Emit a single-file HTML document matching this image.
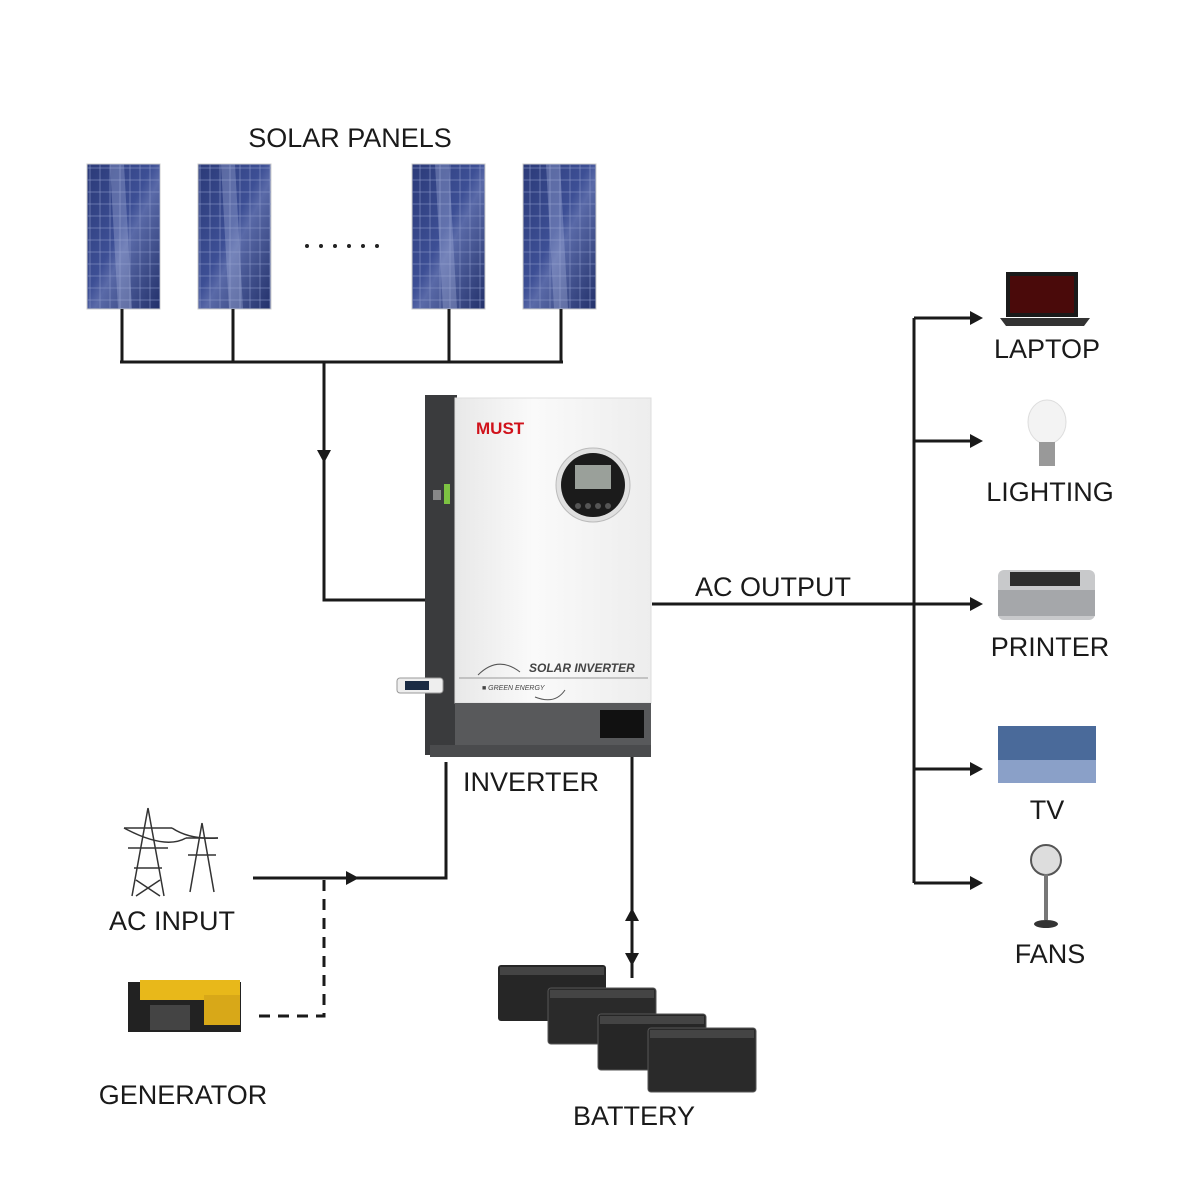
<!DOCTYPE html>
<html><head><meta charset="utf-8"><style>
html,body{margin:0;padding:0;background:#fff;}
svg{display:block;}
text{font-family:"Liberation Sans",Arial,sans-serif;fill:#1a1a1a;}
</style></head><body>
<svg width="1200" height="1200" viewBox="0 0 1200 1200" xmlns="http://www.w3.org/2000/svg">
<defs>
<linearGradient id="pn" x1="0" y1="0" x2="1" y2="1">
<stop offset="0" stop-color="#2b3a78"/><stop offset="0.45" stop-color="#3d4f95"/><stop offset="0.55" stop-color="#5a6aa8"/><stop offset="1" stop-color="#22306a"/></linearGradient>
<pattern id="grid" width="10" height="12" patternUnits="userSpaceOnUse"><rect width="10" height="12" fill="none" stroke="#8a98c8" stroke-width="0.6"/></pattern>
<linearGradient id="wh" x1="0" y1="0" x2="1" y2="0"><stop offset="0" stop-color="#e8e8e8"/><stop offset="0.4" stop-color="#fafafa"/><stop offset="1" stop-color="#ededed"/></linearGradient>
</defs>

<text x="350" y="147" font-size="27" text-anchor="middle">SOLAR PANELS</text>
<g>
<rect x="87" y="164" width="73" height="145" fill="url(#pn)" stroke="#ccc"/><rect x="87" y="164" width="73" height="145" fill="url(#grid)"/>
<rect x="198" y="164" width="73" height="145" fill="url(#pn)" stroke="#ccc"/><rect x="198" y="164" width="73" height="145" fill="url(#grid)"/>
<rect x="412" y="164" width="73" height="145" fill="url(#pn)" stroke="#ccc"/><rect x="412" y="164" width="73" height="145" fill="url(#grid)"/>
<rect x="523" y="164" width="73" height="145" fill="url(#pn)" stroke="#ccc"/><rect x="523" y="164" width="73" height="145" fill="url(#grid)"/>
<g fill="#a8b4dc" opacity="0.35"><path d="M110 164H124L132 309H118Z"/><path d="M221 164H235L243 309H229Z"/><path d="M435 164H449L457 309H443Z"/><path d="M546 164H560L568 309H554Z"/></g>
</g>
<g fill="#222"><circle cx="307" cy="246" r="2"/><circle cx="321" cy="246" r="2"/><circle cx="335" cy="246" r="2"/><circle cx="349" cy="246" r="2"/><circle cx="363" cy="246" r="2"/><circle cx="377" cy="246" r="2"/></g>

<g stroke="#1a1a1a" stroke-width="3" fill="none">
<path d="M122 309V362M233 309V362M449 309V362M561 309V362M120 362H563"/>
<path d="M324 362V600H428"/>
<path d="M652 604H972"/>
<path d="M914 318V883"/>
<path d="M914 318H972M914 441H972M914 769H972M914 883H972"/>
<path d="M253 878H446V762"/>
<path d="M632 742V978"/>
<path d="M324 880V1016H253" stroke-dasharray="11 8"/>
</g>
<g fill="#1a1a1a">
<path d="M317 450L331 450L324 463Z"/>
<path d="M970 311L983 318L970 325Z"/>
<path d="M970 434L983 441L970 448Z"/>
<path d="M970 597L983 604L970 611Z"/>
<path d="M970 762L983 769L970 776Z"/>
<path d="M970 876L983 883L970 890Z"/>
<path d="M346 871L359 878L346 885Z"/>
<path d="M625 921L632 908L639 921Z"/>
<path d="M625 953L632 966L639 953Z"/>
</g>

<g>
<rect x="425" y="395" width="32" height="360" fill="#3a3b3d"/>
<rect x="455" y="398" width="196" height="305" fill="url(#wh)" stroke="#ddd"/>
<rect x="455" y="703" width="196" height="42" fill="#58595b"/>
<rect x="600" y="710" width="44" height="28" fill="#111"/>
<rect x="430" y="745" width="221" height="12" fill="#4a4b4d"/>
<text x="476" y="434" font-size="17" font-weight="bold" style="fill:#d0121b">MUST</text>
<circle cx="593" cy="485" r="37" fill="#e0e0e0" stroke="#bbb"/>
<circle cx="593" cy="485" r="32" fill="#1b1b1b"/>
<rect x="575" y="465" width="36" height="24" fill="#9aa09a"/>
<g fill="#555"><circle cx="578" cy="506" r="3"/><circle cx="588" cy="506" r="3"/><circle cx="598" cy="506" r="3"/><circle cx="608" cy="506" r="3"/></g>
<rect x="444" y="484" width="6" height="20" fill="#7dc242"/>
<rect x="433" y="490" width="8" height="10" fill="#888"/>
<rect x="397" y="678" width="46" height="15" rx="3" fill="#eee" stroke="#999"/>
<rect x="405" y="681" width="24" height="9" fill="#1a2b44"/>
<path d="M459 678H648" stroke="#999" stroke-width="1"/>
<path d="M478 675Q498 655 520 672M535 697Q555 705 565 690" stroke="#555" fill="none" stroke-width="1"/>
<text x="529" y="672" font-size="12" font-style="italic" font-weight="bold" style="fill:#444">SOLAR INVERTER</text>
<text x="482" y="690" font-size="7" font-style="italic" style="fill:#444">■ GREEN ENERGY</text>
</g>
<text x="531" y="791" font-size="27" text-anchor="middle">INVERTER</text>
<text x="773" y="596" font-size="27" text-anchor="middle">AC OUTPUT</text>

<rect x="1006" y="272" width="72" height="45" fill="#1a1a1a"/><rect x="1010" y="276" width="64" height="37" fill="#4a0a0a"/>
<path d="M1000 318H1090L1084 326H1006Z" fill="#333"/>
<text x="1047" y="358" font-size="27" text-anchor="middle">LAPTOP</text>
<ellipse cx="1047" cy="422" rx="19" ry="22" fill="#f3f3f3" stroke="#ddd"/>
<rect x="1039" y="442" width="16" height="24" fill="#999"/>
<text x="1050" y="501" font-size="27" text-anchor="middle">LIGHTING</text>
<rect x="998" y="570" width="97" height="50" rx="6" fill="#c8c9cb"/><rect x="998" y="590" width="97" height="26" fill="#a5a7aa"/><rect x="1010" y="572" width="70" height="14" fill="#2d2d2d"/>
<text x="1050" y="656" font-size="27" text-anchor="middle">PRINTER</text>
<rect x="998" y="726" width="98" height="57" fill="#4a6a9a"/><rect x="998" y="760" width="98" height="23" fill="#8aa0c8"/>
<text x="1047" y="819" font-size="27" text-anchor="middle">TV</text>
<circle cx="1046" cy="860" r="15" fill="#ddd" stroke="#555" stroke-width="2"/>
<rect x="1044" y="874" width="4" height="46" fill="#777"/><ellipse cx="1046" cy="924" rx="12" ry="4" fill="#333"/>
<text x="1050" y="963" font-size="27" text-anchor="middle">FANS</text>

<g stroke="#333" stroke-width="1.5" fill="none">
<path d="M148 808L132 896M148 808L164 896M124 828H172M128 848H168M134 868H162M136 880L160 896M160 880L136 896"/>
<path d="M202 823L190 892M202 823L214 892M186 838H218M188 855H216"/>
<path d="M124 828Q165 850 186 838M172 828Q190 840 218 838"/>
</g>
<text x="172" y="930" font-size="27" text-anchor="middle">AC INPUT</text>
<rect x="128" y="982" width="113" height="50" fill="#222"/><rect x="140" y="980" width="100" height="20" fill="#e8b81a"/>
<rect x="204" y="995" width="36" height="30" fill="#d8a818"/><rect x="150" y="1005" width="40" height="25" fill="#444"/>
<text x="183" y="1104" font-size="27" text-anchor="middle">GENERATOR</text>

<g>
<rect x="498" y="965" width="108" height="56" rx="3" fill="#262626"/>
<rect x="548" y="988" width="108" height="56" rx="3" fill="#2a2a2a" stroke="#555"/>
<rect x="598" y="1014" width="108" height="56" rx="3" fill="#262626" stroke="#555"/>
<rect x="648" y="1028" width="108" height="64" rx="3" fill="#2a2a2a" stroke="#555"/>
<g fill="#444"><rect x="500" y="967" width="104" height="8"/><rect x="550" y="990" width="104" height="8"/><rect x="600" y="1016" width="104" height="8"/><rect x="650" y="1030" width="104" height="8"/></g>
</g>
<text x="634" y="1125" font-size="27" text-anchor="middle">BATTERY</text>
</svg>
</body></html>
